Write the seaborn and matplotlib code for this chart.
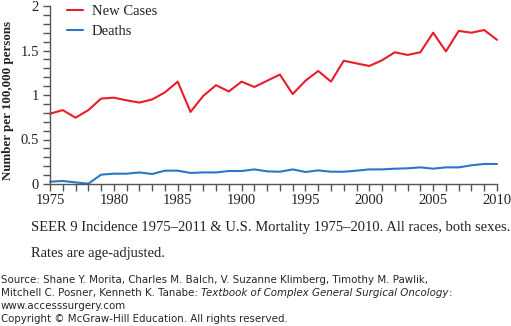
import matplotlib
matplotlib.use("Agg")
import matplotlib.pyplot as plt
import seaborn as sns
import pandas as pd
import numpy as np

years = list(range(1975, 2011))
new_cases = [0.79, 0.83, 0.745, 0.83, 0.96, 0.97, 0.94, 0.915, 0.95, 1.03,
             1.15, 0.81, 0.99, 1.11, 1.04, 1.15, 1.09, 1.16, 1.23, 1.01,
             1.16, 1.27, 1.15, 1.385, 1.355, 1.326, 1.39, 1.48, 1.45, 1.48,
             1.70, 1.49, 1.72, 1.70, 1.73, 1.62]
deaths = [0.026, 0.034, 0.018, 0.003, 0.105, 0.116, 0.116, 0.13, 0.112, 0.15,
          0.15, 0.124, 0.13, 0.13, 0.146, 0.146, 0.164, 0.142, 0.138, 0.164,
          0.135, 0.153, 0.138, 0.138, 0.15, 0.164, 0.164, 0.172, 0.176, 0.187,
          0.172, 0.187, 0.187, 0.21, 0.225, 0.225]
series_names = ["New Cases", "Deaths"]
x_tick_values = [1975, 1980, 1985, 1990, 1995, 2000, 2005, 2010]
x_tick_labels = ["1975", "1980", "1985", "1900", "1995", "2000", "2005", "2010"]
y_tick_values = [0, 0.5, 1, 1.5, 2]
y_tick_labels = ["0", "0.5", "1", "1.5", "2"]
ylabel = "Number per 100,000 persons"
caption1 = "SEER 9 Incidence 1975\u20132011 & U.S. Mortality 1975\u20132010. All races, both sexes."
caption2 = "Rates are age-adjusted."

df = pd.DataFrame({
    "year": years * 2,
    "value": new_cases + deaths,
    "series": [series_names[0]] * len(years) + [series_names[1]] * len(years),
})

sns.set_style("ticks")
plt.rcParams["font.family"] = ["Liberation Serif", "DejaVu Serif"]

W, H = 511, 326
fig = plt.figure(figsize=(W / 100, H / 100), dpi=100)
ax = fig.add_axes([50 / W, 1 - 184 / H, (497 - 50) / W, (184 - 6) / H])

palette = {"New Cases": "#ea1c2a", "Deaths": "#2a78c4"}
sns.lineplot(data=df, x="year", y="value", hue="series", palette=palette,
             linewidth=1.5, ax=ax, clip_on=False)

ax.set_xlim(1975, 2010)
ax.set_ylim(0, 2)
ax.set_xticks(x_tick_values)
ax.set_xticklabels(x_tick_labels)
ax.set_xticks(range(1975, 2011), minor=True)
ax.set_yticks(y_tick_values)
ax.set_yticklabels(y_tick_labels)
ax.set_yticks(np.arange(0, 2.01, 0.1), minor=True)

axis_col = "#555555"
for side in ["top", "right"]:
    ax.spines[side].set_visible(False)
for side in ["left", "bottom"]:
    ax.spines[side].set_color(axis_col)
    ax.spines[side].set_linewidth(1.0)
ax.tick_params(axis="both", which="both", direction="out", length=5,
               width=1.0, color=axis_col, labelsize=10.5, labelcolor="#222222")
ax.tick_params(axis="y", which="both", pad=3)
ax.tick_params(axis="x", which="both", pad=2)

ax.set_xlabel("")
ax.set_ylabel(ylabel, fontsize=9.4, fontweight="bold", color="#222222")
ax.yaxis.label.set_verticalalignment("bottom")
ax.yaxis.set_label_coords(-36 / (497 - 50), 0.47)

leg = ax.legend(loc="upper left", bbox_to_anchor=(11 / 447, 1.04), frameon=False,
                fontsize=10.5, handlelength=1.1, handletextpad=0.6,
                labelspacing=0.45, borderaxespad=0)
for t in leg.get_texts():
    t.set_color("#222222")

fig.text(31 / W, 1 - 228 / H, caption1, fontsize=10.5, va="center", ha="left", color="#222222")
fig.text(31 / W, 1 - 253 / H, caption2, fontsize=10.5, va="center", ha="left", color="#222222")

sans = ["DejaVu Sans"]
fs = 7.4
fig.text(0.002, 1 - 280 / H,
         "Source: Shane Y. Morita, Charles M. Balch, V. Suzanne Klimberg, Timothy M. Pawlik,",
         fontsize=fs, family=sans, va="center", ha="left")
t1 = fig.text(0.002, 1 - 293 / H,
              "Mitchell C. Posner, Kenneth K. Tanabe: ",
              fontsize=fs, family=sans, va="center", ha="left")
fig.canvas.draw()
bb = t1.get_window_extent()
t2 = fig.text(bb.x1 / W, 1 - 293 / H,
              "Textbook of Complex General Surgical Oncology",
              fontsize=fs, family=sans, style="italic", va="center", ha="left")
fig.canvas.draw()
bb2 = t2.get_window_extent()
fig.text(bb2.x1 / W, 1 - 293 / H, ":", fontsize=fs, family=sans, va="center", ha="left")
fig.text(0.002, 1 - 306 / H, "www.accesssurgery.com",
         fontsize=fs, family=sans, va="center", ha="left")
fig.text(0.002, 1 - 319 / H, "Copyright \u00a9 McGraw-Hill Education. All rights reserved.",
         fontsize=fs, family=sans, va="center", ha="left")

fig.savefig("out.png", dpi=100)
